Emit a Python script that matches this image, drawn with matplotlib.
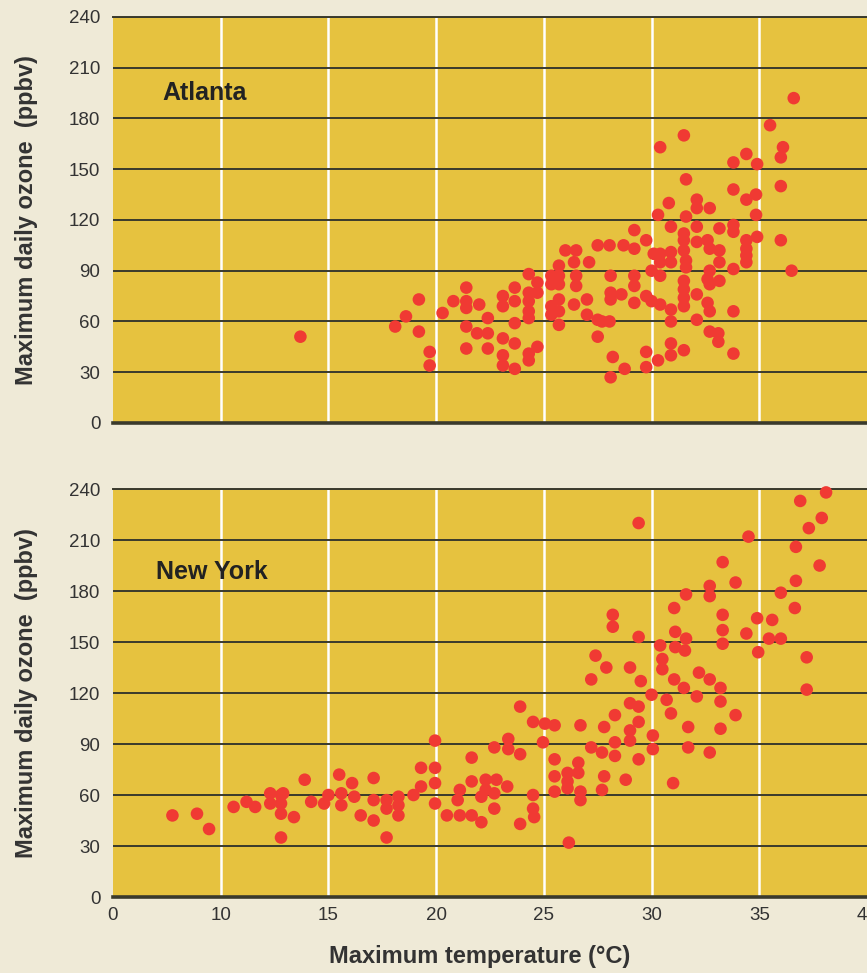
import matplotlib.pyplot as plt

plt.rcParams['font.family'] = ['Liberation Sans', 'DejaVu Sans']

# Atlanta: maximum temperature (C) vs maximum daily ozone (ppbv)
atl_temp = [13.7, 18.1, 18.6, 19.2, 19.2, 19.7, 19.7, 20.3, 20.8, 21.4, 21.4, 21.4, 22.0, 21.4, 21.4,
            21.9, 22.4, 22.4, 22.4, 23.1, 23.1, 23.1, 23.1, 23.1, 23.65, 23.65, 23.65, 23.65, 23.65,
            24.3, 24.3, 24.3, 24.3, 24.3, 24.3, 24.3, 24.7, 24.7, 24.7, 25.35, 25.35, 25.35, 25.35,
            25.7, 25.7, 25.7, 25.7, 25.7, 25.7, 26.0, 26.5, 26.4, 26.5, 26.5, 26.4, 27.0, 27.0, 27.1,
            27.5, 28.05, 28.7, 27.5, 27.7, 28.05, 27.5, 28.1, 28.1, 28.1, 28.6, 28.2, 28.1, 28.75,
            29.2, 29.2, 29.2, 29.2, 29.2, 29.75, 29.75, 30.0, 30.4, 29.75, 29.75, 30.0, 30.1, 30.4,
            30.4, 30.4, 30.3, 30.3, 30.4, 30.8, 30.9, 30.9, 30.9, 30.9, 30.9, 30.9, 30.9, 31.5, 31.6,
            31.6, 31.5, 31.5, 31.5, 31.6, 31.6, 31.5, 31.5, 31.5, 31.5, 31.5, 32.1, 32.1, 32.7, 32.1,
            32.1, 32.1, 32.1, 32.6, 32.7, 32.7, 32.6, 32.7, 32.6, 32.7, 32.7, 33.1, 33.1, 33.15, 33.15,
            33.15, 33.15, 33.8, 33.8, 33.8, 33.8, 33.8, 33.8, 33.8, 34.4, 34.4, 34.85, 34.9, 34.85,
            34.4, 34.4, 34.4, 34.4, 34.9, 35.5, 36.1, 36.0, 36.0, 36.0, 36.6, 36.5]
atl_ozone = [51, 57, 63, 73, 54, 42, 34, 65, 72, 80, 72, 68, 70, 57, 44,
             53, 62, 53, 44, 75, 69, 50, 40, 34, 80, 72, 59, 47, 32,
             88, 77, 72, 66, 62, 41, 37, 83, 77, 45, 87, 82, 69, 64,
             93, 87, 82, 73, 66, 58, 102, 102, 95, 87, 81, 70, 73, 64, 95,
             105, 105, 105, 61, 60, 60, 51, 87, 77, 73, 76, 39, 27, 32,
             114, 103, 87, 81, 71, 108, 75, 72, 70, 42, 33, 90, 100, 100,
             95, 87, 37, 123, 163, 130, 116, 101, 95, 67, 60, 47, 40, 170, 144,
             122, 112, 108, 102, 96, 92, 84, 79, 74, 69, 43, 132, 127, 127, 116,
             107, 76, 61, 108, 103, 90, 85, 82, 71, 66, 54, 53, 48, 115, 102,
             95, 84, 154, 138, 117, 113, 91, 66, 41, 159, 132, 135, 153, 123,
             108, 103, 99, 95, 110, 176, 163, 157, 140, 108, 192, 90]

# New York
ny_temp = [7.76, 8.9, 9.46, 10.6, 11.2, 11.6, 12.3, 12.3, 12.8, 12.9, 12.8, 12.8, 12.8, 13.4, 13.9,
           14.2, 14.8, 15.0, 15.5, 15.6, 15.6, 16.1, 16.2, 16.5, 17.1, 17.1, 17.1, 17.7, 17.7, 17.7,
           18.25, 18.25, 18.25, 18.95, 19.3, 19.3, 19.95, 19.95, 19.95, 19.95, 20.5, 21.1, 21.0, 21.1,
           21.65, 21.65, 21.65, 22.1, 22.1, 22.3, 22.3, 22.7, 22.8, 22.7, 22.7, 23.3, 23.35, 23.35,
           23.9, 23.9, 23.9, 24.5, 24.5, 24.5, 24.55, 25.05, 25.5, 24.96, 25.5, 25.5, 25.5, 26.1,
           26.1, 26.1, 26.6, 26.6, 26.7, 26.7, 26.16, 26.7, 27.2, 27.4, 27.2, 27.7, 27.8, 27.8, 27.7,
           27.9, 28.2, 28.2, 28.3, 28.3, 28.3, 28.8, 29.0, 29.0, 29.4, 29.0, 29.0, 29.4, 29.5, 29.4,
           29.4, 30.0, 30.06, 30.06, 29.4, 36.9, 38.1, 37.9, 37.3, 34.5, 36.7, 37.8, 33.3, 33.9,
           36.7, 32.7, 32.7, 31.6, 36.0, 36.65, 31.05, 33.3, 33.3, 33.3, 34.9, 35.6, 34.4, 35.45,
           36.0, 34.95, 37.2, 37.2, 31.1, 31.6, 31.55, 31.1, 30.4, 30.5, 30.5, 31.05, 31.5, 32.2,
           32.7, 33.2, 33.2, 32.1, 30.7, 30.9, 33.9, 31.7, 33.2, 31.7, 32.7, 31.0]
ny_ozone = [48, 49, 40, 53, 56, 53, 61, 55, 60, 61, 55, 49, 35, 47, 69,
            56, 55, 60, 72, 61, 54, 67, 59, 48, 70, 57, 45, 57, 52, 35,
            59, 54, 48, 60, 76, 65, 92, 76, 67, 55, 48, 63, 57, 48,
            82, 68, 48, 44, 59, 69, 63, 88, 69, 61, 52, 65, 93, 87,
            112, 84, 43, 103, 60, 52, 47, 102, 101, 91, 81, 71, 62, 73,
            68, 64, 79, 73, 62, 57, 32, 101, 128, 142, 88, 85, 100, 71, 63,
            135, 166, 159, 107, 91, 83, 69, 135, 114, 112, 98, 92, 153, 127, 103,
            81, 119, 95, 87, 220, 233, 238, 223, 217, 212, 206, 195, 197, 185,
            186, 183, 177, 178, 179, 170, 170, 166, 157, 149, 164, 163, 155, 152,
            152, 144, 141, 122, 156, 152, 145, 147, 148, 140, 134, 128, 123, 132,
            128, 123, 115, 118, 116, 108, 107, 100, 99, 88, 85, 67]

cities = ['Atlanta', 'New York']
temps = [atl_temp, ny_temp]
ozones = [atl_ozone, ny_ozone]

xticks = [5, 10, 15, 20, 25, 30, 35, 40]
xtick_labels = ['0', '10', '15', '20', '25', '30', '35', '40']
white_lines = [10, 15, 20, 25, 30, 35]
yticks = [0, 30, 60, 90, 120, 150, 180, 210, 240]

cream = '#efead7'
gold = '#e6c23f'
dark = '#3a3a2c'
red = '#f03a33'
txt = '#333333'

fig = plt.figure(figsize=(8.67, 9.73), dpi=100, facecolor=cream)
ax_top = fig.add_axes([0.1303, 0.5653, 0.8697, 0.4173])
ax_bot = fig.add_axes([0.1303, 0.0781, 0.8697, 0.4193])
label_pos = [(0.066, 0.796), (0.057, 0.779)]

for i, ax in enumerate([ax_top, ax_bot]):
    ax.set_facecolor(gold)
    ax.set_xlim(5, 40)
    ax.set_ylim(0, 240)
    ax.set_yticks(yticks)
    ax.set_xticks(xticks)
    ax.set_axisbelow(True)
    ax.yaxis.grid(True, color=dark, lw=1.4)
    ax.vlines(white_lines, 0, 240, colors='white', lw=1.8, zorder=0.4)
    ax.scatter(temps[i], ozones[i], s=82, color=red, edgecolors='none', zorder=3, clip_on=False)
    for s in ['left', 'right']:
        ax.spines[s].set_visible(False)
    ax.spines['top'].set_color(dark)
    ax.spines['top'].set_linewidth(1.4)
    ax.spines['bottom'].set_color(dark)
    ax.spines['bottom'].set_linewidth(2.6)
    ax.tick_params(length=0, labelsize=13.5, colors=txt, pad=9)
    ax.set_ylabel('Maximum daily ozone  (ppbv)', fontsize=17, fontweight='bold', color=txt)
    ax.yaxis.set_label_coords(-0.1, 0.5)
    ax.text(label_pos[i][0], label_pos[i][1], cities[i], transform=ax.transAxes,
            fontsize=18, fontweight='bold', color='#222222', ha='left', va='baseline')

ax_top.tick_params(labelbottom=False)
ax_bot.set_xticklabels(xtick_labels)
ax_bot.tick_params(axis='x', pad=7)

fig.text(480 / 867, 1 - 957 / 973, 'Maximum temperature (°C)', fontsize=17,
         fontweight='bold', color=txt, ha='center', va='center')

fig.savefig('out.png', dpi=100, facecolor=cream)
